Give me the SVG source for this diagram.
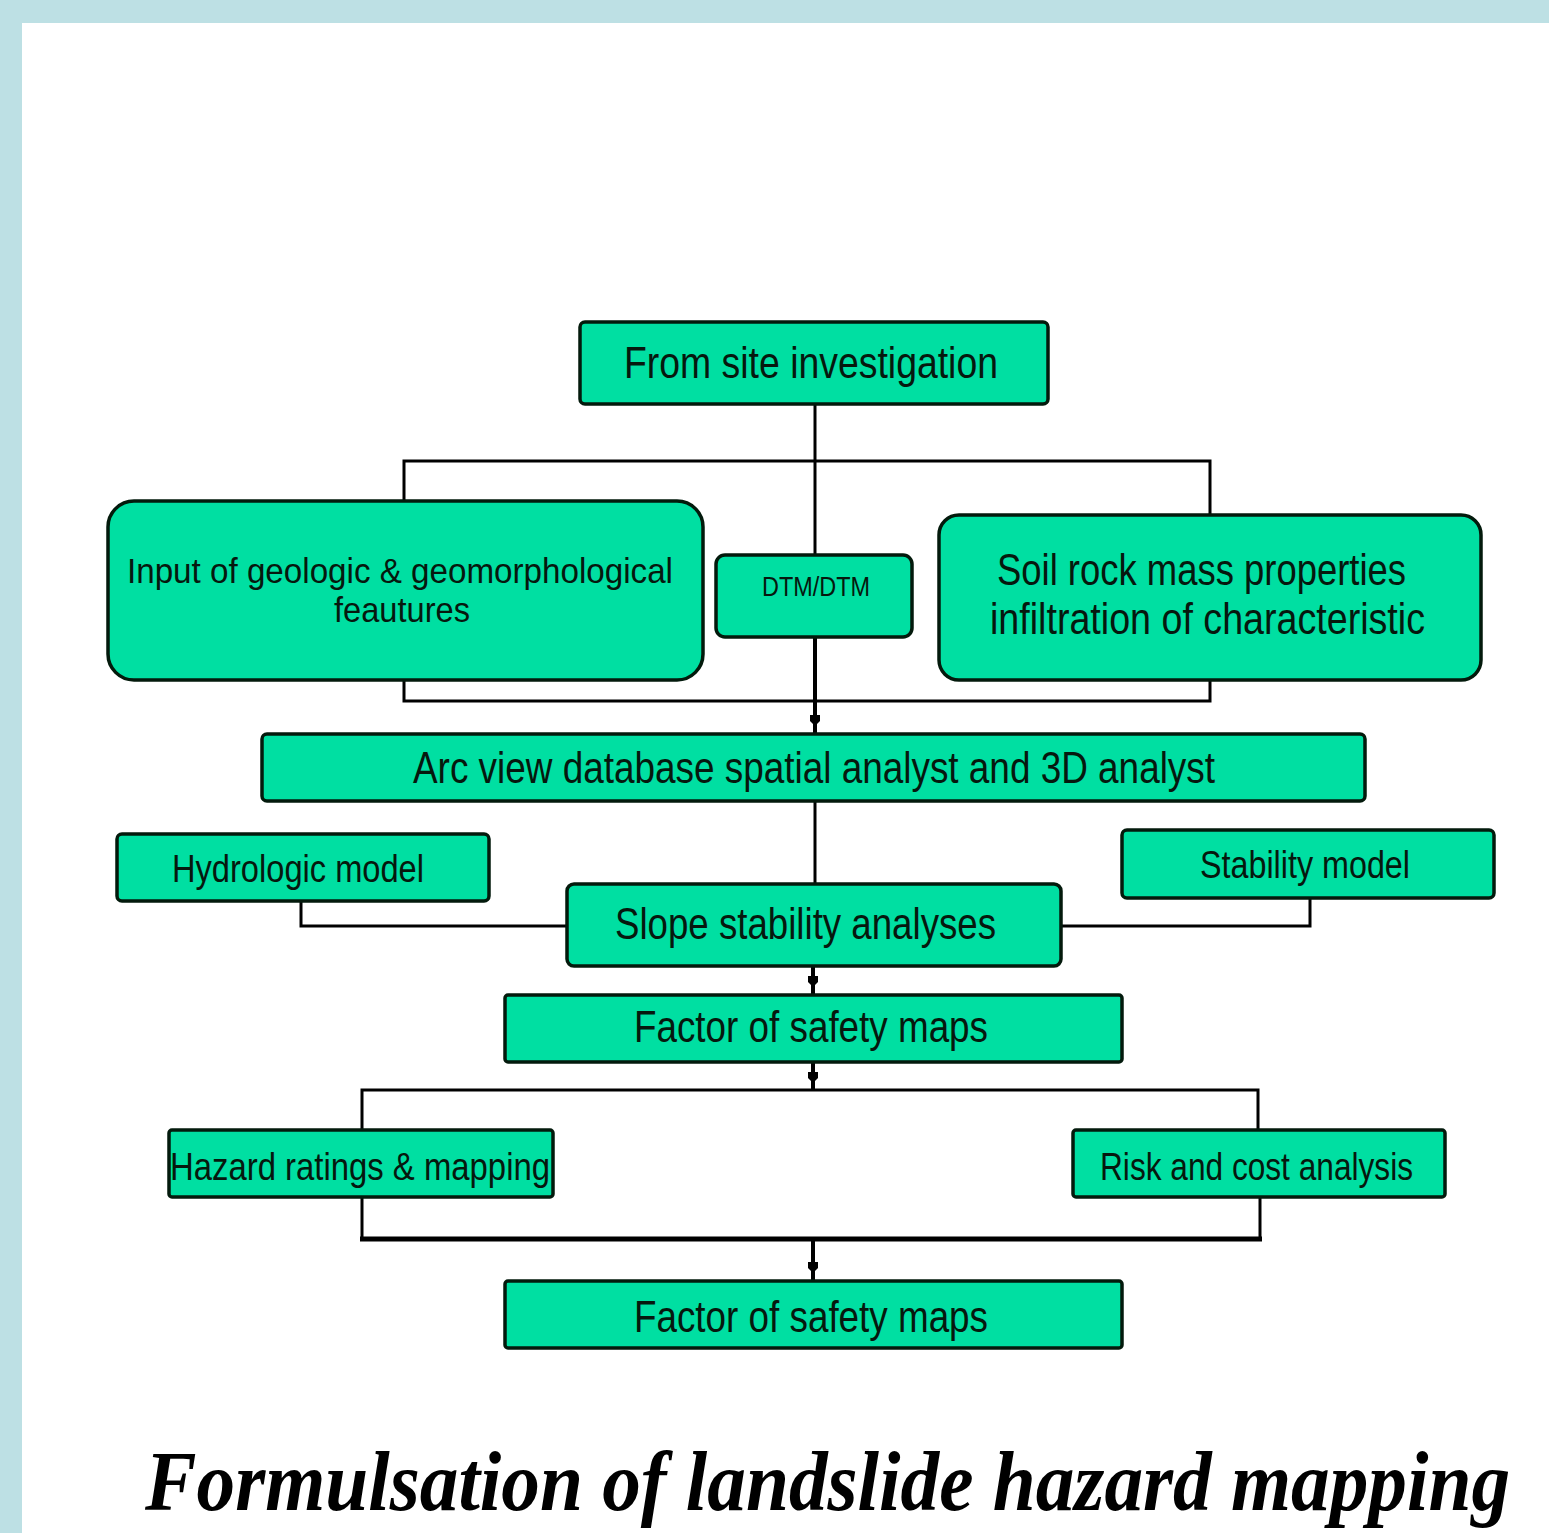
<svg xmlns="http://www.w3.org/2000/svg" width="1549" height="1533" viewBox="0 0 1549 1533">
<defs>
<style>
.box{fill:#00dfa2;stroke:#031a0c;stroke-width:3.5}
.t{font-family:"Liberation Sans",Arial,sans-serif;fill:#06180e;text-anchor:start}
.ln{fill:none;stroke:#000;stroke-width:3}
.thk{fill:none;stroke:#000;stroke-width:4}
.head{fill:#000;stroke:none}
.title{font-family:"Liberation Serif","Times New Roman",serif;font-weight:bold;font-style:italic;fill:#000}
</style>
<path id="ah" d="M-5,-5 L5,-5 L5,1 L0,6 L-5,1 Z"/>
</defs>
<rect x="0" y="0" width="1549" height="1533" fill="#bde0e4"/>
<rect x="22" y="23" width="1527" height="1510" fill="#ffffff"/>

<g id="connectors">
<line class="ln" x1="815" y1="404" x2="815" y2="555"/>
<polyline class="ln" points="404,500 404,461 1210,461 1210,515"/>
<polyline class="ln" points="404,680 404,701 1210,701 1210,680"/>
<line class="thk" x1="815" y1="637" x2="815" y2="733"/>
<use href="#ah" class="head" x="815" y="720"/>
<line class="ln" x1="815" y1="801" x2="815" y2="884"/>
<polyline class="ln" points="301,901 301,926 567,926"/>
<polyline class="ln" points="1310,898 1310,926 1061,926"/>
<line class="thk" x1="813" y1="966" x2="813" y2="995"/>
<use href="#ah" class="head" x="813" y="981"/>
<line class="thk" x1="813" y1="1062" x2="813" y2="1090"/>
<use href="#ah" class="head" x="813" y="1077"/>
<polyline class="ln" points="362,1130 362,1090 1258,1090 1258,1130"/>
<polyline class="ln" points="362,1197 362,1239"/>
<polyline class="ln" points="1260,1197 1260,1239"/>
<line class="thk" x1="360" y1="1239" x2="1262" y2="1239" style="stroke-width:5"/>
<line class="thk" x1="813" y1="1239" x2="813" y2="1281"/>
<use href="#ah" class="head" x="813" y="1267"/>
</g>

<g id="n-site">
<rect class="box" x="580" y="322" width="468" height="82" rx="5"/>
<text class="t" x="624" y="378" font-size="44" textLength="374" lengthAdjust="spacingAndGlyphs">From site investigation</text>
</g>
<g id="n-geologic">
<rect class="box" x="108" y="501" width="595" height="179" rx="26"/>
<text class="t" x="127" y="583" font-size="35" textLength="546" lengthAdjust="spacingAndGlyphs">Input of geologic &amp; geomorphological</text>
<text class="t" x="334" y="622" font-size="35" textLength="136" lengthAdjust="spacingAndGlyphs">feautures</text>
</g>
<g id="n-dtm">
<rect class="box" x="716" y="555" width="196" height="82" rx="9"/>
<text class="t" x="762" y="596" font-size="28" textLength="108" lengthAdjust="spacingAndGlyphs">DTM/DTM</text>
</g>
<g id="n-soil">
<rect class="box" x="939" y="515" width="542" height="165" rx="20"/>
<text class="t" x="997" y="585" font-size="44" textLength="409" lengthAdjust="spacingAndGlyphs">Soil rock mass properties</text>
<text class="t" x="990" y="634" font-size="44" textLength="435" lengthAdjust="spacingAndGlyphs">infiltration of characteristic</text>
</g>
<g id="n-arc">
<rect class="box" x="262" y="734" width="1103" height="67" rx="5"/>
<text class="t" x="413" y="783" font-size="45" textLength="802" lengthAdjust="spacingAndGlyphs">Arc view database spatial analyst and 3D analyst</text>
</g>
<g id="n-hydro">
<rect class="box" x="117" y="834" width="372" height="67" rx="5"/>
<text class="t" x="172" y="882" font-size="38" textLength="252" lengthAdjust="spacingAndGlyphs">Hydrologic model</text>
</g>
<g id="n-stab">
<rect class="box" x="1122" y="830" width="372" height="68" rx="5"/>
<text class="t" x="1200" y="878" font-size="38" textLength="210" lengthAdjust="spacingAndGlyphs">Stability model</text>
</g>
<g id="n-slope">
<rect class="box" x="567" y="884" width="494" height="82" rx="7"/>
<text class="t" x="615" y="939" font-size="45" textLength="381" lengthAdjust="spacingAndGlyphs">Slope stability analyses</text>
</g>
<g id="n-fos1">
<rect class="box" x="505" y="995" width="617" height="67" rx="3"/>
<text class="t" x="634" y="1042" font-size="45" textLength="354" lengthAdjust="spacingAndGlyphs">Factor of safety maps</text>
</g>
<g id="n-hazard">
<rect class="box" x="169" y="1130" width="384" height="67" rx="3"/>
<text class="t" x="170" y="1180" font-size="38" textLength="380" lengthAdjust="spacingAndGlyphs">Hazard ratings &amp; mapping</text>
</g>
<g id="n-risk">
<rect class="box" x="1073" y="1130" width="372" height="67" rx="3"/>
<text class="t" x="1100" y="1180" font-size="38" textLength="313" lengthAdjust="spacingAndGlyphs">Risk and cost analysis</text>
</g>
<g id="n-fos2">
<rect class="box" x="505" y="1281" width="617" height="67" rx="3"/>
<text class="t" x="634" y="1332" font-size="45" textLength="354" lengthAdjust="spacingAndGlyphs">Factor of safety maps</text>
</g>

<text class="title" transform="translate(145,1510) scale(1,1.12)" x="0" y="0" font-size="76" textLength="1365" lengthAdjust="spacingAndGlyphs">Formulsation of landslide hazard mapping</text>
</svg>
